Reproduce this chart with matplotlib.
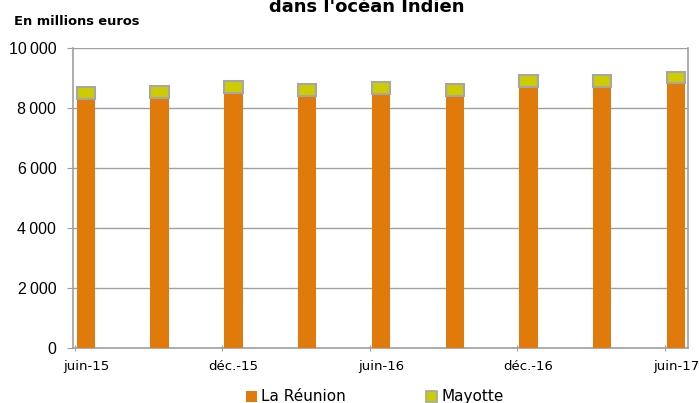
import matplotlib
matplotlib.use("Agg")
import matplotlib.pyplot as plt
import numpy as np

# trimestres, juin-15 .. juin-17
periods = ["juin-15", "sept.-15", "déc.-15", "mars-16", "juin-16",
           "sept.-16", "déc.-16", "mars-17", "juin-17"]
reunion = [8300, 8340, 8510, 8410, 8480, 8410, 8710, 8710, 8820]
mayotte = [390, 400, 390, 390, 380, 380, 390, 390, 390]
yticks = [0, 2000, 4000, 6000, 8000, 10000]
ytick_labels = ["0", "2\u2009000", "4\u2009000", "6\u2009000", "8\u2009000", "10\u2009000"]

ORANGE = "#E07B0B"
YELLOW = "#CCCC00"
GRAY = "#A0A0A0"

plt.rcParams["font.family"] = ["DejaVu Sans"]

fig = plt.figure(figsize=(6.99, 4.03), dpi=100)
ax = fig.add_axes([0.1044, 0.1365, 0.8796, 0.7445])

x = np.arange(len(periods))
ax.bar(x, reunion, width=0.25, color=ORANGE, zorder=3)
ax.bar(x, mayotte, width=0.25, bottom=reunion, color=YELLOW,
       edgecolor="#A6A6A6", linewidth=1.5, zorder=3)

ax.set_ylim(0, 10000)
ax.set_xlim(-0.176, 8.16)
ax.set_yticks(yticks)
ax.set_yticklabels(ytick_labels, fontsize=11.5, family=["Liberation Sans", "DejaVu Sans"])
ax.yaxis.grid(True, color=GRAY, linewidth=1, zorder=0)

# date axis: tick marks every 6 months, labels centred on bars
ax.set_xticks(x[::2] - 0.15)
ax.set_xticklabels([])
ax.set_xticks(x[::2], minor=True)
ax.set_xticklabels(periods[::2], minor=True, fontsize=9.5)
ax.tick_params(axis="x", which="minor", length=0, pad=9)
ax.tick_params(axis="x", which="major", length=4, color=GRAY, direction="inout")
ax.tick_params(axis="y", length=4, color=GRAY, direction="out", pad=8)

for s in ["left", "bottom", "right"]:
    ax.spines[s].set_color(GRAY)
    ax.spines[s].set_linewidth(1.2)
ax.spines["top"].set_visible(False)

fig.text(0.525, 0.970, "dans l'océan Indien", ha="center", va="baseline",
         fontsize=13, fontweight="bold")
fig.text(0.02, 0.938, "En millions euros", ha="left", va="baseline",
         fontsize=9.4, fontweight="bold")

h1 = plt.Rectangle((0, 0), 1, 1, facecolor=ORANGE)
h2 = plt.Rectangle((0, 0), 1, 1, facecolor=YELLOW, edgecolor="#A6A6A6", linewidth=1.2)
fig.legend([h1, h2], ["La Réunion", "Mayotte"], loc="center",
           bbox_to_anchor=(0.536, 0.015), ncol=2, frameon=False,
           fontsize=11, handlelength=0.72, handleheight=0.72,
           handletextpad=0.26, columnspacing=5.3)

fig.savefig("out.png", dpi=100)
